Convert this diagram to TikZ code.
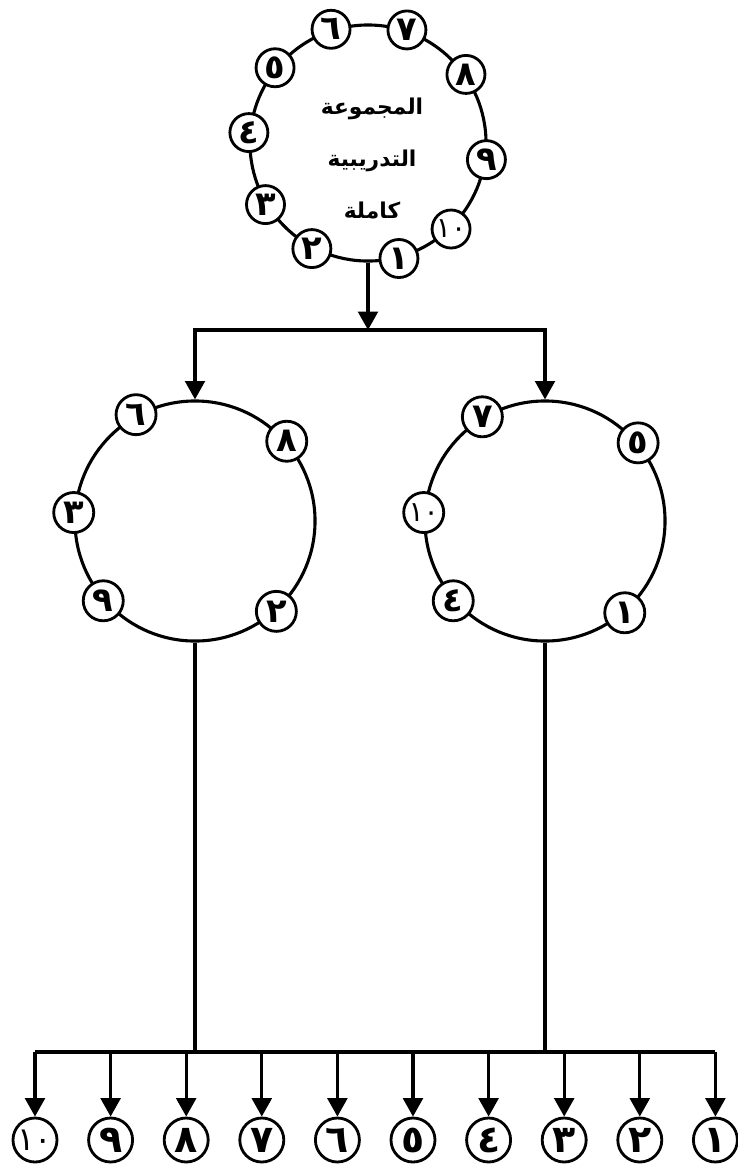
\documentclass[tikz,border=0pt]{standalone}
\usepackage{fontspec}
\usepackage{tikz}
\usetikzlibrary{%
  arrows.meta,%
  calc%
}
\newfontfamily\arabicfont[Script=Arabic]{DejaVu Sans}
\TeXXeTstate=1
\tikzset{>={Triangle[length=4.6mm,width=4.9mm]}}
\tikzset{ring/.style = {draw, circle, line width=2.2pt, inner sep=0pt},%
  player/.style = {draw, circle, fill=white, line width=2pt, inner sep=0pt,
    minimum size=0.95cm, font=\arabicfont\bfseries\fontsize{24}{24}\selectfont},%
  twodigit/.style = {font=\arabicfont\fontsize{20}{20}\selectfont},%
  trainee/.style = {player, minimum size=1.1cm, font=\arabicfont\bfseries\fontsize{27}{27}\selectfont},%
  bigtwodigit/.style = {font=\arabicfont\fontsize{23}{23}\selectfont},%
  link/.style = {line width=2.4pt}}

\begin{document}
\begin{tikzpicture}[x=0.025cm, y=-0.025cm]
    \useasboundingbox (0,0) rectangle (738,1167);
    % whole group
    \node[ring, minimum size=5.9cm] (whole) at (368,143) {};
    \node[font=\arabicfont\bfseries\fontsize{15.5}{37}\selectfont, align=center] (title) at (372,158)
      {\beginR المجموعة\endR\\ \beginR التدريبية\endR\\ \beginR كاملة\endR};
    \node[player] (w6) at (whole.108) {٦};
    \node[player] (w7) at (whole.71) {٧};
    \node[player] (w8) at (whole.35) {٨};
    \node[player] (w9) at (whole.-8) {٩};
    \node[player, twodigit] (w10) at (whole.-46) {١٠};
    \node[player] (w1) at (whole.-75) {١};
    \node[player] (w2) at (whole.-118) {٢};
    \node[player] (w3) at (whole.-149) {٣};
    \node[player] (w4) at (whole.175) {٤};
    \node[player] (w5) at (whole.141) {٥};
    % two sub groups
    \node[ring, minimum size=6cm] (left) at (195,521) {};
    \node[player, minimum size=1cm] (l6) at (left.119) {٦};
    \node[player, minimum size=1cm] (l8) at (left.41) {٨};
    \node[player, minimum size=1cm] (l3) at (left.176) {٣};
    \node[player, minimum size=1cm] (l9) at (left.221) {٩};
    \node[player, minimum size=1cm] (l2) at (left.312) {٢};
    \node[ring, minimum size=6cm] (right) at (545,521) {};
    \node[player, minimum size=1cm] (r7) at (right.121) {٧};
    \node[player, minimum size=1cm] (r5) at (right.40) {٥};
    \node[player, minimum size=1cm, twodigit] (r10) at (right.176) {١٠};
    \node[player, minimum size=1cm] (r4) at (right.221) {٤};
    \node[player, minimum size=1cm] (r1) at (right.311) {١};
    % split
    \coordinate (split) at (368,330);
    \draw[link,->] (whole.south) -- (split);
    \draw[link,->] (split) -| (left.north);
    \draw[link,->] (split) -| (right.north);
    % single players
    \node[trainee, bigtwodigit] (b10) at (35,1140) {١٠};
    \node[trainee] (b9) at (110.6,1140) {٩};
    \node[trainee] (b8) at (186.2,1140) {٨};
    \node[trainee] (b7) at (261.8,1140) {٧};
    \node[trainee] (b6) at (337.4,1140) {٦};
    \node[trainee] (b5) at (413,1140) {٥};
    \node[trainee] (b4) at (488.6,1140) {٤};
    \node[trainee] (b3) at (564.2,1140) {٣};
    \node[trainee] (b2) at (639.8,1140) {٢};
    \node[trainee] (b1) at (715.4,1140) {١};
    \coordinate (row) at (368,1052);
    \draw[link] (left.south) -- (left.south |- row);
    \draw[link] (right.south) -- (right.south |- row);
    \draw[link] (b10.north |- row) -- (b1.north |- row);
    \draw[link,->] (b10.north |- row) -- (b10.north);
    \draw[link,->] (b9.north |- row) -- (b9.north);
    \draw[link,->] (b8.north |- row) -- (b8.north);
    \draw[link,->] (b7.north |- row) -- (b7.north);
    \draw[link,->] (b6.north |- row) -- (b6.north);
    \draw[link,->] (b5.north |- row) -- (b5.north);
    \draw[link,->] (b4.north |- row) -- (b4.north);
    \draw[link,->] (b3.north |- row) -- (b3.north);
    \draw[link,->] (b2.north |- row) -- (b2.north);
    \draw[link,->] (b1.north |- row) -- (b1.north);
  \end{tikzpicture}
\end{document}
